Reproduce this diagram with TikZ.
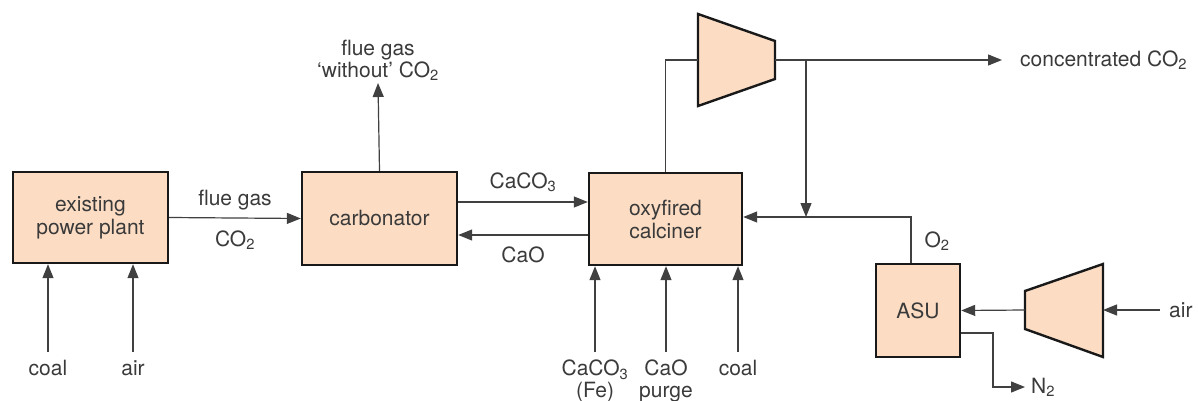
\documentclass[tikz,border=0pt]{standalone}
\usepackage{fontspec}
\setmainfont{TeX Gyre Heros}
\usetikzlibrary{arrows.meta}
\definecolor{unitfill}{HTML}{FCDDC4}
\definecolor{ink}{HTML}{3A3A3A}
\tikzset{
  unit/.style={draw=black!90,line width=2.4pt,fill=unitfill,align=center,
    font=\fontsize{21}{23}\selectfont,text=ink},
  pipe/.style={draw=black!75,line width=1.2pt},
  flow/.style={pipe,-{Triangle[length=14pt,width=11pt]}},
  lbl/.style={font=\fontsize{21}{22}\selectfont,text=ink,align=center,inner sep=2pt},
  feed/.style={lbl,anchor=north,inner ysep=8pt}
}
\begin{document}
\begin{tikzpicture}[x=1pt,y=-1pt]
  \useasboundingbox (0,0) rectangle (1198,401);
  \node[unit,minimum width=155pt,minimum height=91pt] (plant) at (90.5,217.5) {existing\\power plant};
  \node[unit,minimum width=155pt,minimum height=93pt] (carb) at (379.5,218.5) {carbonator};
  \node[unit,minimum width=153pt,minimum height=92pt] (calc) at (665.5,219) {oxyfired\\calciner};
  \node[unit,minimum width=84pt,minimum height=93pt] (asu) at (918,310.5) {ASU};
  \draw[unit] (698,14) -- (775,41) -- (775,79) -- (698,106) -- cycle;
  \draw[unit] (1025,291) -- (1103,264) -- (1103,357) -- (1025,329) -- cycle;
  \coordinate (cin) at (698,60);
  \coordinate (cout) at (775,60);
  \coordinate (split) at (806,60);
  \coordinate (join) at (806,217);
  \coordinate (ain) at (1103,310);
  \coordinate (aout) at (1025,310);
  \coordinate (n2turn) at (993,333);
  \node[feed] (coal1) at (48,352) {coal};
  \node[feed] (air1) at (133,352) {air};
  \node[feed] (caco3in) at (595,352) {CaCO\textsubscript{3}\\(Fe)};
  \node[feed] (purge) at (666,352) {CaO\\purge};
  \node[feed] (coal2) at (738,352) {coal};
  \node[lbl,anchor=south] (fgout) at (378,83) {flue gas\\`without' CO\textsubscript{2}};
  \node[lbl,anchor=west] (co2out) at (1018,60) {concentrated CO\textsubscript{2}};
  \node[lbl,anchor=west] (air2) at (1167,310) {air};
  \node[lbl,anchor=west] (n2) at (1029,387) {N\textsubscript{2}};
  \node[lbl] at (235,200) {flue gas};
  \node[lbl] at (235,240) {CO\textsubscript{2}};
  \node[lbl] at (523,182) {CaCO\textsubscript{3}};
  \node[lbl] at (523,255) {CaO};
  \node[lbl] at (937,241) {O\textsubscript{2}};
  \draw[flow] (plant.east) -- (carb.west);
  \draw[flow] (coal1.north) -- (coal1.north |- plant.south);
  \draw[flow] (air1.north) -- (air1.north |- plant.south);
  \draw[flow] (carb.north) -- (fgout.south);
  \draw[flow] ([yshift=16.5pt]carb.east) -- ([yshift=16.5pt]carb.east -| calc.west);
  \draw[flow] ([yshift=-16pt]calc.west) -- ([yshift=-16pt]calc.west -| carb.east);
  \draw[flow] (caco3in.north) -- (caco3in.north |- calc.south);
  \draw[flow] (purge.north) -- (purge.north |- calc.south);
  \draw[flow] (coal2.north) -- (coal2.north |- calc.south);
  \draw[pipe] (calc.north) |- (cin);
  \draw[flow,shorten >=16pt] (cout) -- (co2out.west);
  \draw[flow] (split) -- (join);
  \draw[flow] ([xshift=-7pt]asu.north) |- (calc.east |- join);
  \draw[flow,shorten <=7pt] (air2.west) -- (ain);
  \draw[flow] (aout) -- (asu.east);
  \draw[flow,shorten >=4pt] ([yshift=-22.5pt]asu.east) -| (n2turn) |- (n2.west);
\end{tikzpicture}
\end{document}
